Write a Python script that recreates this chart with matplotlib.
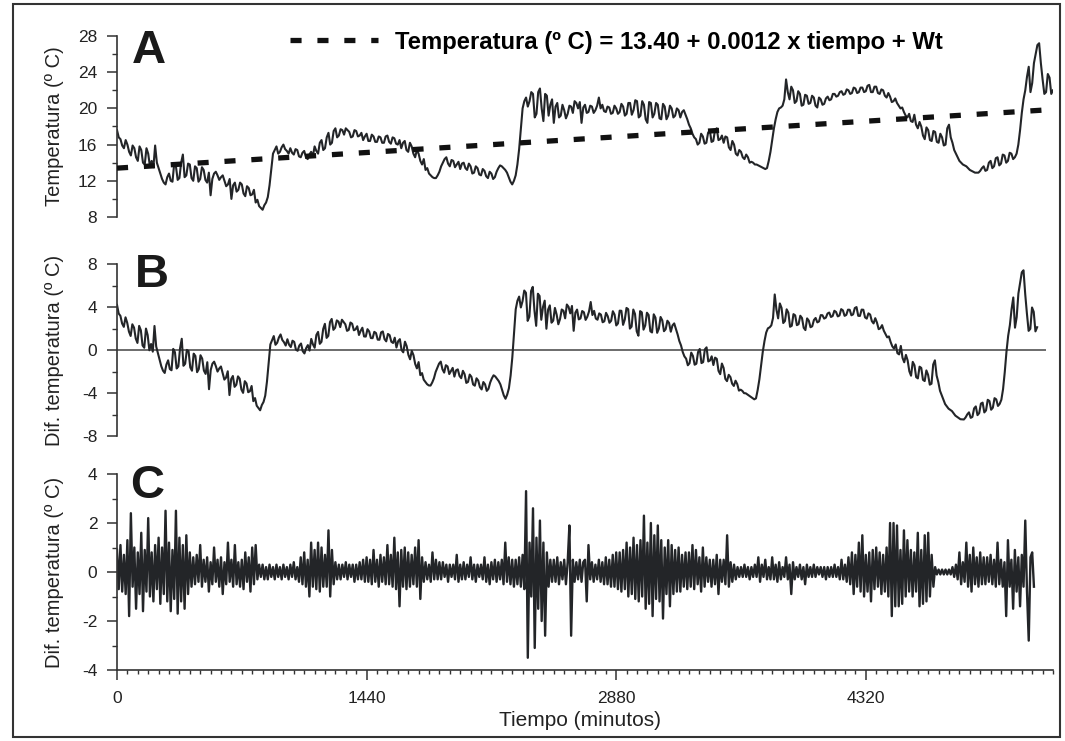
import numpy as np
import matplotlib
matplotlib.use("Agg")
import matplotlib.pyplot as plt
from matplotlib.ticker import MultipleLocator, FixedLocator

plt.rcParams['font.family'] = ['Liberation Sans', 'DejaVu Sans']
plt.rcParams['axes.unicode_minus'] = False

# tiempo de muestreo (minutos), cada 10 min
tiempo = np.arange(0, 5401, 10)

temperatura = np.array([
    17.6, 16.8, 16.6, 15.9, 15.6, 16.5, 16.0, 15.2, 14.8, 15.9,
    15.6, 14.6, 14.2, 15.8, 15.4, 14.0, 13.8, 15.6, 15.0, 13.6,
    14.2, 13.5, 15.9, 14.0, 13.4, 12.8, 12.2, 11.8, 11.6, 12.4,
    12.8, 12.0, 11.9, 13.9, 13.6, 12.1, 12.3, 14.0, 14.9, 12.4,
    12.6, 13.9, 13.8, 12.3, 12.0, 13.6, 13.4, 11.9, 12.2, 13.5,
    13.2, 12.1, 11.8, 12.9, 10.4, 12.2, 12.8, 13.0, 12.6, 12.1,
    12.4, 12.6, 12.0, 11.4, 11.6, 12.2, 10.0, 11.5, 11.8, 10.8,
    11.0, 11.8, 11.6, 10.6, 10.3, 11.4, 11.2, 10.4, 10.5, 11.0,
    9.6, 9.9, 9.2, 9.0, 8.8, 9.3, 9.6, 10.2, 11.5, 13.2,
    15.0, 15.4, 15.8, 15.0, 15.2, 15.7, 16.0, 15.5, 15.3, 15.0,
    15.6, 15.1, 14.9, 15.5, 15.4, 14.7, 14.6, 15.1, 15.3, 14.6,
    14.4, 14.9, 15.2, 14.7, 15.8, 15.3, 15.0, 16.2, 16.5, 15.4,
    15.6, 16.8, 17.3, 16.0, 16.2, 17.5, 17.8, 16.8, 17.0, 17.7,
    17.6, 17.1, 17.8, 17.6, 17.4, 16.8, 16.9, 17.6, 17.5, 16.9,
    17.0, 17.3, 16.5, 16.9, 17.2, 16.4, 16.4, 17.1, 16.9, 16.3,
    16.3, 16.9, 16.8, 16.2, 16.2, 16.9, 17.0, 16.3, 16.1, 16.8,
    16.7, 16.1, 16.0, 16.5, 15.6, 16.2, 16.4, 15.4, 15.2, 16.2,
    15.8, 15.0, 14.6, 15.4, 15.0, 14.2, 13.8, 14.4, 13.2, 13.4,
    12.8, 12.6, 12.4, 12.3, 12.3, 12.6, 13.0, 13.6, 14.0, 14.4,
    14.6, 13.9, 13.6, 14.3, 14.2, 13.5, 13.8, 14.1, 13.3, 13.9,
    14.0, 13.4, 13.2, 13.9, 13.6, 12.8, 12.9, 13.6, 13.4, 12.7,
    12.6, 13.3, 13.1, 12.5, 12.3, 13.0, 12.8, 12.2, 12.4, 13.0,
    13.4, 13.7, 13.6, 13.4, 13.2, 12.9, 12.4, 11.9, 11.6, 12.0,
    12.6, 13.8, 15.5, 17.8, 20.0, 20.8, 21.2, 20.2, 20.8, 21.8,
    21.6, 19.0, 19.4, 21.8, 22.2, 20.0, 18.6, 21.6, 21.4, 19.2,
    20.4, 21.0, 18.4, 20.2, 20.6, 19.0, 19.2, 20.4, 19.8, 18.9,
    19.4, 20.3, 20.2, 19.5, 20.8, 20.6, 20.0, 20.7, 18.4, 20.1,
    20.4, 19.5, 19.6, 20.3, 20.2, 19.5, 19.8, 20.3, 21.2, 20.0,
    20.4, 19.7, 19.6, 20.2, 20.1, 19.4, 19.5, 20.3, 20.0, 19.4,
    19.6, 20.5, 20.2, 19.2, 19.4, 20.6, 20.6, 19.3, 19.8, 20.9,
    20.8, 19.0, 19.2, 20.8, 20.4, 18.8, 18.4, 20.7, 20.6, 19.0,
    19.4, 20.6, 20.4, 18.9, 18.8, 20.5, 20.2, 18.8, 19.2, 20.3,
    20.0, 19.0, 19.2, 20.0, 19.8, 19.0, 19.6, 19.8, 19.3, 18.8,
    18.2, 17.8, 17.2, 16.8, 16.6, 16.0, 16.2, 17.2, 16.9, 16.1,
    16.2, 17.3, 17.6, 16.3, 16.4, 17.6, 17.8, 16.5, 16.6, 17.0,
    16.2, 16.9, 16.8, 15.7, 15.4, 16.4, 16.0, 15.0, 14.8, 15.4,
    15.2, 14.6, 14.4, 14.9, 14.6, 14.0, 14.1, 14.0, 13.8, 13.8,
    13.7, 13.6, 13.5, 13.4, 13.3, 13.4, 14.2, 15.2, 16.5, 17.8,
    18.8, 19.6, 20.0, 20.1, 20.3, 21.0, 23.2, 21.8, 21.0, 22.4,
    22.0, 20.6, 20.8, 21.9, 21.6, 20.3, 20.4, 21.5, 21.4, 20.5,
    20.6, 21.4, 21.2, 20.3, 20.1, 21.2, 21.0, 20.4, 20.5, 21.1,
    21.3, 20.9, 21.0, 21.6, 21.6, 21.3, 21.4, 21.8, 21.9, 21.5,
    21.6, 22.1, 22.0, 21.6, 21.7, 22.3, 22.2, 21.7, 21.8, 22.3,
    22.3, 21.8, 21.9, 22.5, 22.6, 21.8, 21.8, 22.4, 22.4, 21.7,
    21.6, 22.1, 22.0, 21.4, 21.2, 21.7, 21.3, 20.7, 20.8, 21.1,
    20.6, 20.3, 20.0, 20.1, 19.6, 19.2, 19.0, 19.4, 18.6, 18.5,
    19.3, 18.2, 17.8, 18.5, 18.0, 17.0, 16.6, 17.9, 17.6, 16.5,
    16.4, 17.5, 17.4, 16.3, 16.2, 17.2, 16.8, 15.9, 16.0, 17.8,
    18.2, 16.8, 16.2, 15.4, 15.0, 14.6, 14.2, 14.0, 13.8, 13.7,
    13.6, 13.4, 13.2, 13.1, 13.0, 12.9, 12.9, 12.9, 13.1, 13.4,
    13.6, 13.1, 13.2, 14.0, 14.2, 13.4, 13.6, 14.5, 14.6, 13.7,
    13.9, 14.9, 14.8, 14.0, 14.2, 15.1, 15.0, 14.4, 14.6, 15.0,
    16.0, 17.6, 19.5, 21.0, 22.0, 23.5, 24.6, 21.8, 22.8, 25.0,
    26.0, 27.0, 27.2, 25.0, 23.2, 21.6, 21.8, 23.8, 23.4, 21.6,
    22.0,
])

# recta de tendencia: Temperatura = 13.40 + 0.0012 x tiempo
intercepto = 13.40
pendiente = 0.0012
tendencia = intercepto + pendiente * tiempo
# panel B: diferencia respecto de la tendencia
dif_tendencia = temperatura - tendencia

# panel C: serie diferenciada (cada 10 min)
tiempo_c = np.arange(0, 5291, 10)
dif_c = np.array([
    0.9, -0.7, 1.1, -0.8, 0.7, -0.9, 1.3, -1.8, 2.4, -0.6,
    1.0, -1.5, 0.8, -0.9, 1.6, -1.6, 0.9, -0.8, 2.2, -1.0,
    0.8, -1.2, 1.1, -0.7, 1.4, -1.3, 1.0, -0.9, 2.5, -1.2,
    1.2, -1.6, 0.9, -1.1, 2.5, -1.7, 1.4, -1.2, 1.1, -1.5,
    1.5, -0.9, 0.8, -0.6, 0.6, -0.5, 0.7, -0.4, 1.1, -0.6,
    0.5, -0.4, 0.6, -0.8, 0.4, -0.5, 1.0, -0.4, 0.5, -0.6,
    0.6, -0.9, 0.4, -0.5, 1.2, -0.4, 0.5, -0.6, 1.1, -0.5,
    0.4, -0.6, 0.5, -0.7, 0.8, -0.4, 0.6, -0.8, 1.0, -0.5,
    1.1, -0.3, 0.3, -0.2, 0.3, -0.3, 0.2, -0.3, 0.3, -0.2,
    0.2, -0.3, 0.3, -0.2, 0.2, -0.3, 0.3, -0.2, 0.2, -0.3,
    0.3, -0.2, 0.4, -0.3, 0.2, -0.4, 0.6, -0.5, 0.8, -0.6,
    0.5, -1.0, 1.2, -0.6, 0.9, -0.7, 1.2, -0.8, 1.0, -0.6,
    0.7, -0.6, 1.7, -1.0, 0.9, -0.5, 0.4, -0.3, 0.3, -0.3,
    0.3, -0.2, 0.4, -0.3, 0.3, -0.2, 0.3, -0.4, 0.3, -0.3,
    0.4, -0.3, 0.5, -0.4, 0.6, -0.4, 0.5, -0.5, 0.9, -0.4,
    0.5, -0.6, 0.7, -0.4, 0.6, -0.5, 1.1, -0.5, 0.7, -0.6,
    1.4, -0.7, 0.8, -1.4, 0.9, -0.6, 1.0, -0.7, 0.8, -0.6,
    0.7, -0.5, 1.0, -0.6, 1.3, -1.1, 0.6, -0.4, 0.4, -0.3,
    0.3, -0.4, 0.8, -0.3, 0.5, -0.3, 0.4, -0.3, 0.4, -0.2,
    0.3, -0.4, 0.3, -0.2, 0.3, -0.3, 0.7, -0.4, 0.3, -0.3,
    0.4, -0.3, 0.3, -0.2, 0.6, -0.3, 0.3, -0.4, 0.3, -0.2,
    0.3, -0.3, 0.6, -0.4, 0.3, -0.5, 0.4, -0.3, 0.5, -0.4,
    0.4, -0.3, 0.5, -0.5, 1.2, -0.4, 0.6, -0.5, 0.5, -0.6,
    0.5, -0.5, 0.6, -0.6, 0.7, -0.7, 3.3, -3.5, 1.2, -1.0,
    2.6, -3.1, 1.4, -1.5, 2.1, -2.0, 1.2, -2.6, 0.8, -0.6,
    0.5, -0.4, 0.5, -0.4, 0.6, -0.5, 0.4, -0.3, 0.5, -0.5,
    0.4, 1.9, -2.6, 0.5, -0.4, 0.4, -0.3, 0.5, -0.4, 0.4,
    0.5, -1.2, 1.1, -0.3, 0.4, -0.4, 0.3, -0.3, 0.5, -0.4,
    0.4, -0.5, 0.6, -0.5, 0.5, -0.6, 0.7, -0.6, 0.8, -0.7,
    0.8, -0.8, 0.9, -0.7, 1.2, -1.0, 1.0, -0.9, 1.4, -1.1,
    1.1, -1.2, 1.3, -1.0, 2.3, -1.5, 1.2, -1.3, 2.0, -1.8,
    1.5, -1.1, 1.9, -1.2, 1.3, -1.9, 1.0, -0.9, 1.3, -1.4,
    1.1, -0.9, 0.9, -0.8, 1.0, -0.8, 0.7, -0.6, 0.8, -0.7,
    0.8, -0.6, 1.1, -0.7, 0.9, -0.5, 0.6, -0.8, 1.0, -0.6,
    0.6, -0.4, 0.5, -0.6, 0.5, -0.5, 0.7, -0.9, 0.5, -0.4,
    0.5, -0.5, 1.5, -0.6, 0.4, -0.4, 0.3, -0.3, 0.2, -0.2,
    0.2, -0.2, 0.3, -0.2, 0.2, -0.3, 0.2, -0.2, 0.3, -0.2,
    0.6, -0.4, 0.3, -0.2, 0.5, -0.3, 0.2, -0.3, 0.6, -0.3,
    0.3, -0.4, 0.4, -0.3, 0.2, -0.2, 0.6, -0.3, 0.3, -0.9,
    0.4, -0.3, 0.2, -0.2, 0.3, -0.3, 0.2, -0.5, 0.3, -0.2,
    0.2, -0.2, 0.3, -0.2, 0.2, -0.1, 0.2, -0.2, 0.2, -0.3,
    0.2, -0.2, 0.2, -0.2, 0.3, -0.2, 0.2, -0.3, 0.5, -0.3,
    0.3, -0.4, 0.6, -0.5, 0.8, -0.9, 0.7, -0.6, 1.2, -0.8,
    1.5, -1.0, 0.7, -0.8, 0.8, -1.2, 0.9, -0.7, 1.0, -0.6,
    0.8, -0.9, 0.7, -0.8, 1.0, -1.0, 2.0, -1.8, 2.0, -1.4,
    1.9, -1.4, 0.9, -1.3, 1.7, -1.0, 1.3, -0.8, 0.9, -1.0,
    0.8, -0.8, 1.6, -1.4, 0.9, -1.3, 1.5, -1.2, 1.6, -1.0,
    0.7, -0.6, 0.2, -0.1, 0.1, -0.1, 0.1, -0.1, 0.1, -0.1,
    0.1, -0.1, 0.2, -0.2, 0.3, -0.3, 0.8, -0.5, 0.4, -0.4,
    1.2, -0.6, 0.7, -0.8, 1.0, -0.5, 0.6, -0.6, 0.8, -0.5,
    0.6, -0.5, 0.6, -0.4, 0.7, -0.5, 0.5, -0.6, 1.2, -0.5,
    0.5, -0.6, 0.4, -1.8, 1.3, -0.6, 0.5, -1.5, 0.9, -0.8,
    0.6, -1.4, 0.7, -0.6, 2.1, -0.8, -2.8, 0.6, 0.8, -0.6,
])

xticks_c = [0, 1440, 2880, 4320]
leyenda = 'Temperatura (º C) = 13.40 + 0.0012 x tiempo + Wt'

W, H = 1065, 741
fig = plt.figure(figsize=(W / 100, H / 100), dpi=100)

def eje_px(left, top, right, bottom):
    return fig.add_axes([left / W, 1 - bottom / H, (right - left) / W, (bottom - top) / H])

axA = eje_px(117, 36, 1053, 217)
axB = eje_px(117, 264, 1046, 436)
axC = eje_px(117, 474, 1053, 670)

linea = '#232528'
eje_col = '#333333'

axA.plot(tiempo, temperatura, color=linea, lw=1.5, zorder=2)
axA.plot(tiempo, tendencia, color='#111111', lw=3.8, dashes=(2.1, 3.0),
         dash_capstyle='butt', label=leyenda, zorder=3)
axA.set_xlim(0, 5400)
axA.set_ylim(8, 28)
axA.yaxis.set_major_locator(MultipleLocator(4))
axA.yaxis.set_minor_locator(MultipleLocator(2))
axA.set_ylabel('Temperatura (º C)', fontsize=14.5, color='#222222')
axA.yaxis.set_label_coords((64 - 117) / 936, 0.5)
axA.legend(loc='center left', bbox_to_anchor=((290 - 117) / 936, 1 - 6 / 181),
           frameon=False, handlelength=3.7, handletextpad=0.7, borderpad=0,
           borderaxespad=0, prop={'weight': 'bold', 'size': 17.2})

axB.plot(tiempo, dif_tendencia, color=linea, lw=1.5, zorder=2)
axB.axhline(0, color='#444444', lw=1.1, zorder=1)
axB.set_xlim(0, 5452)
axB.set_ylim(-8, 8)
axB.yaxis.set_major_locator(MultipleLocator(4))
axB.yaxis.set_minor_locator(MultipleLocator(2))
axB.set_ylabel('Dif. temperatura (º C)', fontsize=14.5, color='#222222')
axB.yaxis.set_label_coords((64 - 117) / 929, 0.5)

axC.plot(tiempo_c, dif_c, color=linea, lw=1.7, zorder=2)
axC.set_xlim(0, 5400)
axC.set_ylim(-4, 4)
axC.yaxis.set_major_locator(MultipleLocator(2))
axC.yaxis.set_minor_locator(MultipleLocator(1))
axC.xaxis.set_major_locator(FixedLocator(xticks_c))
axC.xaxis.set_minor_locator(MultipleLocator(60))
axC.set_ylabel('Dif. temperatura (º C)', fontsize=14.5, color='#222222')
axC.yaxis.set_label_coords((64 - 117) / 936, 0.5)
axC.set_xlabel('Tiempo (minutos)', fontsize=15, color='#222222')
axC.xaxis.set_label_coords((580 - 117) / 936, -(711 - 670) / 196)
axC.tick_params(axis='x', which='major', length=7.2, width=1.1, pad=8,
                labelsize=12.5, color=eje_col, labelcolor='#222222')
axC.tick_params(axis='x', which='minor', length=3, width=1.0, color=eje_col)

for ax in (axA, axB, axC):
    ax.patch.set_alpha(0)
    for s in ('top', 'right'):
        ax.spines[s].set_visible(False)
    ax.spines['left'].set_color(eje_col)
    ax.spines['left'].set_linewidth(1.2)
    ax.tick_params(axis='y', which='major', length=7.2, width=1.1, pad=7,
                   labelsize=12.5, color=eje_col, labelcolor='#222222')
    ax.tick_params(axis='y', which='minor', length=3.3, width=1.0, color=eje_col)

for ax in (axA, axB):
    ax.spines['bottom'].set_visible(False)
    ax.set_xticks([])
axC.spines['bottom'].set_color(eje_col)
axC.spines['bottom'].set_linewidth(1.2)

# letras de los paneles
fig.text(132 / W, 1 - 63 / H, 'A', fontsize=34, fontweight='bold', color='#1a1a1a', va='baseline')
fig.text(135 / W, 1 - 287 / H, 'B', fontsize=34, fontweight='bold', color='#1a1a1a', va='baseline')
fig.text(130 / W, 1 - 498 / H, 'C', fontsize=34, fontweight='bold', color='#1a1a1a', va='baseline')

# marco exterior
fig.add_artist(plt.Rectangle((13 / W, 1 - 737 / H), (1060 - 13) / W, (737 - 4) / H,
                             transform=fig.transFigure, fill=False, lw=1.5,
                             ec='#333333'))

fig.savefig('out.png', dpi=100, facecolor='white')
